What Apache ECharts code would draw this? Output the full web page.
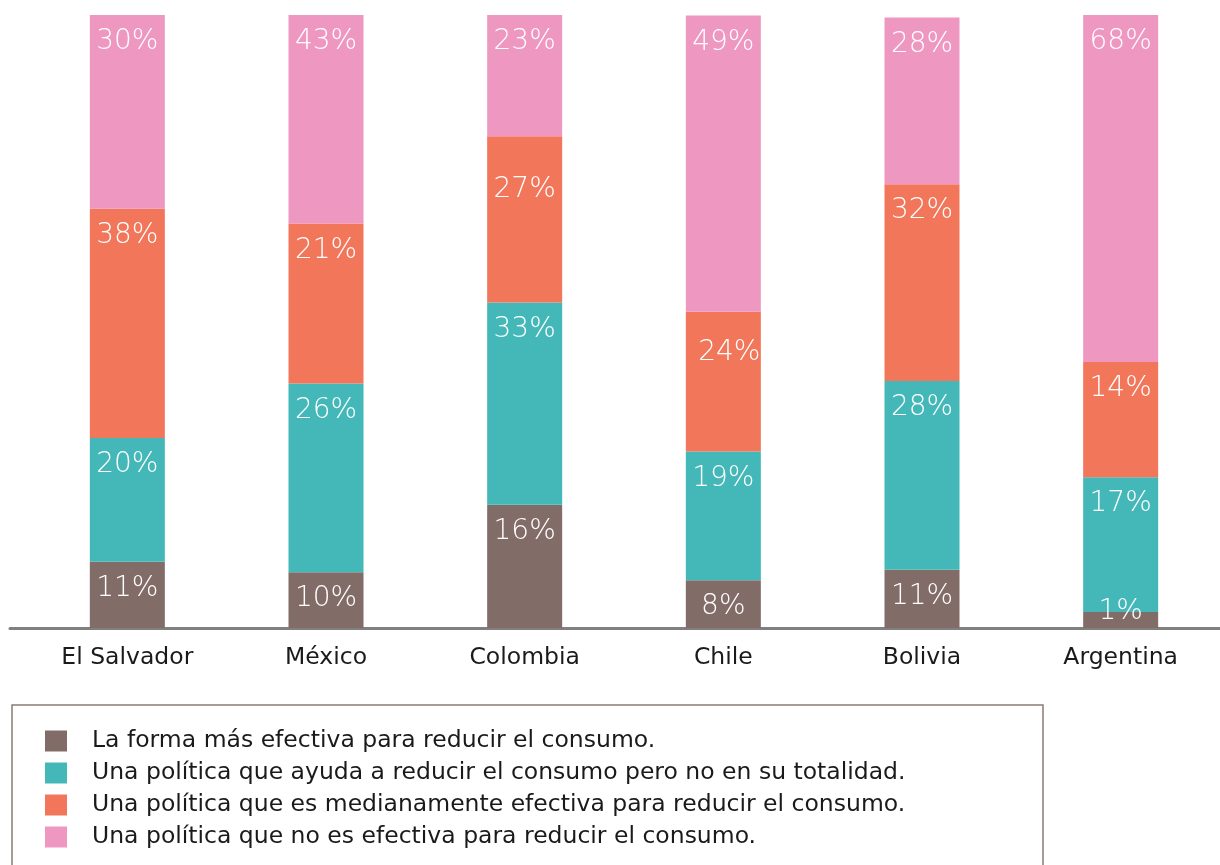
<!DOCTYPE html>
<html>
<head>
<meta charset="utf-8">
<script src="https://cdn.jsdelivr.net/npm/echarts@6/dist/echarts.min.js"></script>
<style>
  html, body { margin: 0; padding: 0; background: #fff; }
  #chart { width: 1220px; height: 865px; }
</style>
</head>
<body>
<div id="chart"></div>
<script>
// datos
var paises = ["El Salvador", "México", "Colombia", "Chile", "Bolivia", "Argentina"];
var nombres = [
  "La forma más efectiva para reducir el consumo.",
  "Una política que ayuda a reducir el consumo pero no en su totalidad.",
  "Una política que es medianamente efectiva para reducir el consumo.",
  "Una política que no es efectiva para reducir el consumo."
];
// porcentajes escritos en las barras
var txtMasEfectiva = [11, 10, 16, 8, 11, 1];
var txtAyuda = [20, 26, 33, 19, 28, 17];
var txtMedianamente = [38, 21, 27, 24, 32, 14];
var txtNoEfectiva = [30, 43, 23, 49, 28, 68];
// altura dibujada de cada tramo (leída del gráfico, no siempre igual al texto)
var masEfectiva = [10.8, 9.1, 20.1, 7.8, 9.5, 2.6];
var ayuda = [20.2, 30.8, 33.0, 21.0, 30.8, 22.0];
var medianamente = [37.4, 26.1, 27.1, 22.8, 32.1, 18.8];
var noEfectiva = [31.6, 34.0, 19.8, 48.3, 27.2, 56.6];

var colores = ["#826c67", "#44b8b8", "#f2765a", "#ee97c1"];
var fuente = "DejaVu Sans";

// algunas etiquetas no van pegadas arriba del tramo
var ajustes = {
  "0-5": { position: "inside", offset: [0, -8] },
  "2-2": { offset: [0, 26] },
  "2-3": { offset: [6, 14] }
};

var myChart = echarts.init(document.getElementById("chart"));

function serie(nombre, alturas, textos, i) {
  return {
    name: nombre,
    type: "bar",
    stack: "total",
    xAxisIndex: 0,
    yAxisIndex: 0,
    data: alturas.map(function (v, j) {
      var item = { value: v };
      if (ajustes[i + "-" + j]) item.label = ajustes[i + "-" + j];
      return item;
    }),
    barWidth: 75,
    itemStyle: { color: colores[i] },
    label: {
      show: true,
      position: "insideTop",
      distance: 13,
      formatter: function (p) {
        return textos[p.dataIndex] + "%";
      },
      color: "#fff",
      fontFamily: fuente,
      fontSize: 28,
      fontWeight: 200
    }
  };
}

myChart.setOption({
  animation: false,
  grid: [
    { left: 28, right: 0, top: 15, bottom: 237 },
    // solo para la línea base, que va de borde a borde
    { left: 10, right: 0, top: 15, bottom: 237 }
  ],
  xAxis: [
    {
      type: "category",
      gridIndex: 0,
      data: paises,
      axisLine: { show: false },
      axisTick: { show: false },
      axisLabel: {
        color: "#1a1a1a",
        fontFamily: fuente,
        fontSize: 23.5,
        margin: 18
      }
    },
    {
      type: "value",
      gridIndex: 1,
      min: 0,
      max: 1,
      axisLine: { show: true, lineStyle: { color: "#808080", width: 3 } },
      axisTick: { show: false },
      axisLabel: { show: false },
      splitLine: { show: false }
    }
  ],
  yAxis: [
    { type: "value", gridIndex: 0, min: 0, max: 100, show: false },
    { type: "value", gridIndex: 1, min: 0, max: 100, show: false }
  ],
  legend: {
    orient: "vertical",
    left: 40,
    top: 724,
    icon: "rect",
    itemWidth: 22,
    itemHeight: 21,
    itemGap: 8,
    itemStyle: { borderWidth: 0 },
    textStyle: {
      color: "#1a1a1a",
      fontFamily: fuente,
      fontSize: 23.5,
      lineHeight: 21,
      padding: [0, 0, 0, 20]
    },
    data: nombres
  },
  graphic: [
    {
      type: "rect",
      shape: { x: 12, y: 705, width: 1031, height: 200 },
      style: { fill: "none", stroke: "#8c7a76", lineWidth: 1.5 },
      silent: true
    }
  ],
  series: [
    serie(nombres[0], masEfectiva, txtMasEfectiva, 0),
    serie(nombres[1], ayuda, txtAyuda, 1),
    serie(nombres[2], medianamente, txtMedianamente, 2),
    serie(nombres[3], noEfectiva, txtNoEfectiva, 3)
  ]
});
</script>
</body>
</html>
